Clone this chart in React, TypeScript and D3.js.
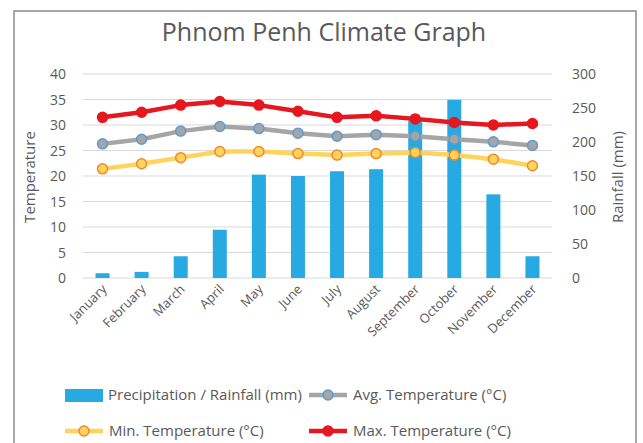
import React, { useEffect, useRef } from "react";
import * as d3 from "d3";

const months = [
  "January", "February", "March", "April", "May", "June",
  "July", "August", "September", "October", "November", "December",
];
const rainfall = [7, 9, 32, 71, 152, 150, 157, 160, 232, 262, 123, 32];
const avgTemp = [26.3, 27.2, 28.8, 29.7, 29.3, 28.4, 27.8, 28.1, 27.8, 27.2, 26.7, 26.0];
const minTemp = [21.4, 22.4, 23.6, 24.8, 24.8, 24.4, 24.1, 24.4, 24.6, 24.1, 23.3, 22.0];
const maxTemp = [31.5, 32.5, 33.9, 34.6, 33.9, 32.7, 31.5, 31.8, 31.2, 30.5, 30.0, 30.3];
const tempTicks = [0, 5, 10, 15, 20, 25, 30, 35, 40];
const rainTicks = [0, 50, 100, 150, 200, 250, 300];

const FONT = "'Open Sans', sans-serif";
const TEXT = "#595959";

const App = () => {
  const svgRef = useRef<SVGSVGElement>(null);

  useEffect(() => {
    const svg = d3.select(svgRef.current);
    svg.selectAll("*").remove();

    const width = 643;
    const height = 443;
    const plot = { left: 83, right: 552, top: 74, bottom: 278 };

    // frame
    svg
      .append("rect")
      .attr("x", 14)
      .attr("y", 11)
      .attr("width", 622)
      .attr("height", 460)
      .attr("fill", "#fff")
      .attr("stroke", "#8a8a8a")
      .attr("stroke-width", 1.5);

    svg
      .append("text")
      .attr("x", 324)
      .attr("y", 41)
      .attr("text-anchor", "middle")
      .attr("font-family", FONT)
      .attr("font-size", 25)
      .attr("fill", TEXT)
      .text("Phnom Penh Climate Graph");

    const x = d3.scaleBand().domain(months).range([plot.left, plot.right]).padding(0);
    const yT = d3.scaleLinear().domain([0, 40]).range([plot.bottom, plot.top]);
    const yR = d3.scaleLinear().domain([0, 300]).range([plot.bottom, plot.top]);
    const cx = (m: string) => (x(m) as number) + x.bandwidth() / 2;

    // gridlines
    svg
      .append("g")
      .selectAll("line")
      .data(tempTicks)
      .enter()
      .append("line")
      .attr("x1", plot.left)
      .attr("x2", plot.right)
      .attr("y1", (d) => yT(d))
      .attr("y2", (d) => yT(d))
      .attr("stroke", "#d9d9d9")
      .attr("stroke-width", 1);

    // left ticks
    svg
      .append("g")
      .selectAll("text")
      .data(tempTicks)
      .enter()
      .append("text")
      .attr("x", 66)
      .attr("y", (d) => yT(d) + 5)
      .attr("text-anchor", "end")
      .attr("font-family", FONT)
      .attr("font-size", 14)
      .attr("fill", TEXT)
      .text((d) => d);

    // right ticks
    svg
      .append("g")
      .selectAll("text")
      .data(rainTicks)
      .enter()
      .append("text")
      .attr("x", 572)
      .attr("y", (d) => yR(d) + 5)
      .attr("font-family", FONT)
      .attr("font-size", 14)
      .attr("fill", TEXT)
      .text((d) => d);

    svg
      .append("text")
      .attr("transform", "translate(35,177) rotate(-90)")
      .attr("text-anchor", "middle")
      .attr("font-family", FONT)
      .attr("font-size", 15)
      .attr("fill", TEXT)
      .text("Temperature");

    svg
      .append("text")
      .attr("transform", "translate(623,177) rotate(-90)")
      .attr("text-anchor", "middle")
      .attr("font-family", FONT)
      .attr("font-size", 15)
      .attr("fill", TEXT)
      .text("Rainfall (mm)");

    // month labels
    svg
      .append("g")
      .selectAll("text")
      .data(months)
      .enter()
      .append("text")
      .attr("transform", (d) => `translate(${cx(d) + 5},${plot.bottom + 12}) rotate(-45)`)
      .attr("text-anchor", "end")
      .attr("font-family", FONT)
      .attr("font-size", 13)
      .attr("fill", TEXT)
      .text((d) => d);

    // bars
    const barW = 14;
    svg
      .append("g")
      .selectAll("rect")
      .data(months)
      .enter()
      .append("rect")
      .attr("x", (d) => cx(d) - barW / 2)
      .attr("width", barW)
      .attr("y", (d, i) => yR(rainfall[i]))
      .attr("height", (d, i) => yR(0) - yR(rainfall[i]))
      .attr("fill", "#27aae1");

    const series = [
      { values: avgTemp, line: "#a5a5a5", fill: "#a5a5a5", stroke: "#5b9bd5" },
      { values: minTemp, line: "#ffd45c", fill: "#ffd45c", stroke: "#f08a2c" },
      { values: maxTemp, line: "#e5171f", fill: "#e5171f", stroke: "#e5171f" },
    ];

    const line = d3
      .line<number>()
      .x((d, i) => cx(months[i]))
      .y((d) => yT(d));

    series.forEach((s) => {
      const g = svg.append("g");
      g.append("path")
        .attr("d", line(s.values))
        .attr("fill", "none")
        .attr("stroke", s.line)
        .attr("stroke-width", 4.5)
        .attr("stroke-linejoin", "round");
      g.selectAll("circle")
        .data(s.values)
        .enter()
        .append("circle")
        .attr("cx", (d, i) => cx(months[i]))
        .attr("cy", (d) => yT(d))
        .attr("r", 5)
        .attr("fill", s.fill)
        .attr("stroke", s.stroke)
        .attr("stroke-width", 1.5);
    });

    // legend
    const legend = svg.append("g").attr("font-family", FONT).attr("font-size", 15).attr("fill", TEXT);
    legend
      .append("rect")
      .attr("x", 65)
      .attr("y", 389)
      .attr("width", 38)
      .attr("height", 13)
      .attr("fill", "#27aae1");
    legend.append("text").attr("x", 108).attr("y", 400).text("Precipitation / Rainfall (mm)");

    const legendLines = [
      { x: 309, y: 395, s: series[0], label: "Avg. Temperature (°C)" },
      { x: 65, y: 431, s: series[1], label: "Min. Temperature (°C)" },
      { x: 309, y: 431, s: series[2], label: "Max. Temperature (°C)" },
    ];
    legendLines.forEach((l) => {
      legend
        .append("line")
        .attr("x1", l.x)
        .attr("x2", l.x + 38)
        .attr("y1", l.y)
        .attr("y2", l.y)
        .attr("stroke", l.s.line)
        .attr("stroke-width", 4.5);
      legend
        .append("circle")
        .attr("cx", l.x + 19)
        .attr("cy", l.y)
        .attr("r", 5)
        .attr("fill", l.s.fill)
        .attr("stroke", l.s.stroke)
        .attr("stroke-width", 1.5);
      legend.append("text").attr("x", l.x + 44).attr("y", l.y + 5).text(l.label);
    });

    svg.attr("width", width).attr("height", height);
  }, []);

  return (
    <svg
      ref={svgRef}
      width={643}
      height={443}
      style={{ position: "absolute", left: 0, top: 0, background: "#fff" }}
    ></svg>
  );
};

export default App;
